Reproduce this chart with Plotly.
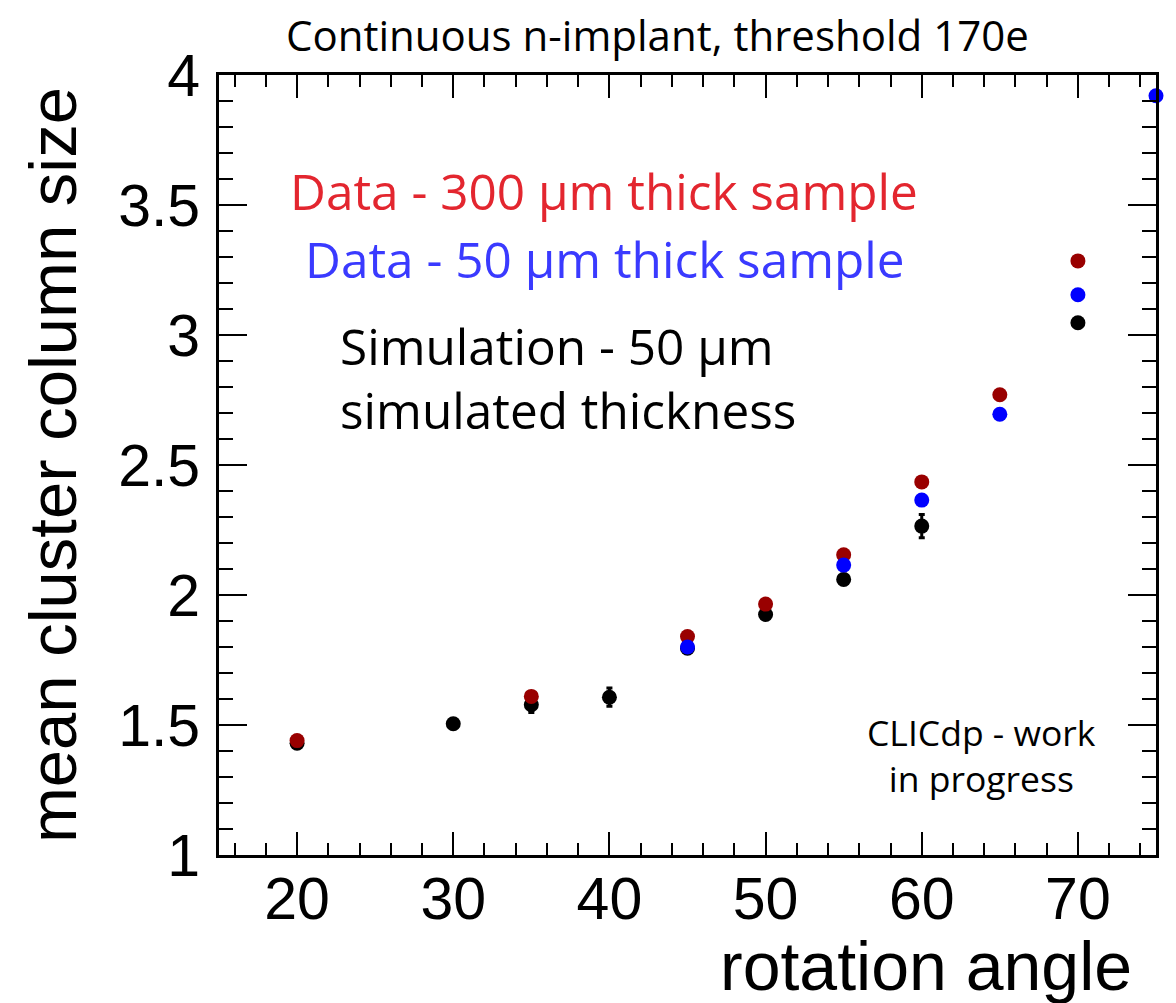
import plotly.graph_objects as go

# ---- data ----
angles_300 = [20, 35, 45, 50, 55, 60, 65, 70]
size_300 = [1.44, 1.61, 1.84, 1.965, 2.155, 2.435, 2.77, 3.285]

angles_50 = [45, 55, 60, 65, 70, 75]
size_50 = [1.80, 2.115, 2.365, 2.695, 3.155, 3.92]

angles_sim = [20, 30, 35, 40, 45, 50, 55, 60, 70]
size_sim = [1.43, 1.505, 1.578, 1.607, 1.795, 1.925, 2.06, 2.265, 3.047]
err_sim = [0.005, 0.012, 0.03, 0.035, 0.01, 0.01, 0.02, 0.045, 0.015]

x_ticks = [20, 30, 40, 50, 60, 70]
y_ticks = [1, 1.5, 2, 2.5, 3, 3.5, 4]
y_tick_text = ["1", "1.5", "2", "2.5", "3", "3.5", "4"]

W, H = 1176, 1003
ML, MR, MT, MB = 219, 20, 75, 148
PW, PH = W - ML - MR, H - MT - MB


def px(xp):
    return (xp - ML) / PW


def py(yp):
    return (H - MB - yp) / PH


HELV = "Liberation Sans, Arial, sans-serif"
AVEN = "Open Sans, Lato, sans-serif"

fig = go.Figure()
fig.add_trace(go.Scatter(
    x=angles_sim, y=size_sim, mode="markers",
    marker=dict(color="black", size=15),
    error_y=dict(type="data", array=err_sim, color="black", thickness=3, width=3),
    cliponaxis=False, showlegend=False))
fig.add_trace(go.Scatter(
    x=angles_300, y=size_300, mode="markers",
    marker=dict(color="#990000", size=15),
    cliponaxis=False, showlegend=False))
fig.add_trace(go.Scatter(
    x=angles_50, y=size_50, mode="markers",
    marker=dict(color="#0000ff", size=15),
    cliponaxis=False, showlegend=False))

axis_common = dict(showline=True, linecolor="black", linewidth=3, mirror="allticks",
                   ticks="inside", tickcolor="black", tickwidth=2,
                   showgrid=False, zeroline=False)

fig.update_xaxes(range=[15, 75], tickvals=x_ticks, ticklen=23,
                 tickfont=dict(family=HELV, size=59, color="black"),
                 ticklabelstandoff=-10,
                 minor=dict(ticks="inside", ticklen=12, dtick=2, tick0=0,
                            tickcolor="black", tickwidth=2),
                 **axis_common)
fig.update_yaxes(range=[1, 4], tickvals=y_ticks, ticktext=y_tick_text, ticklen=28,
                 tickfont=dict(family=HELV, size=59, color="black"),
                 ticklabelstandoff=4,
                 minor=dict(ticks="inside", ticklen=14, dtick=0.1, tick0=0,
                            tickcolor="black", tickwidth=2),
                 **axis_common)

annotations = [
    dict(text="Continuous n-implant, threshold 170e", x=px(657), y=py(35),
         xanchor="center", yanchor="middle", font=dict(family=AVEN, size=42, color="black")),
    dict(text="mean cluster column size", x=px(52), y=py(465), textangle=-90,
         xanchor="center", yanchor="middle", font=dict(family=HELV, size=67, color="black")),
    dict(text="rotation angle", x=px(1134), y=py(966),
         xanchor="right", yanchor="middle", font=dict(family=HELV, size=68, color="black")),
    dict(text="Data - 300 µm thick sample", x=px(288), y=py(191),
         xanchor="left", yanchor="middle", font=dict(family=AVEN, size=49.5, color="#e3262f")),
    dict(text="Data - 50 µm thick sample", x=px(303), y=py(259),
         xanchor="left", yanchor="middle", font=dict(family=AVEN, size=49.5, color="#3a3aff")),
    dict(text="Simulation - 50 µm", x=px(338), y=py(346),
         xanchor="left", yanchor="middle", font=dict(family=AVEN, size=49.5, color="black")),
    dict(text="simulated thickness", x=px(338), y=py(410),
         xanchor="left", yanchor="middle", font=dict(family=AVEN, size=49.5, color="black")),
    dict(text="CLICdp - work<br>in progress", x=px(981), y=py(755),
         xanchor="center", yanchor="middle", align="center",
         font=dict(family=AVEN, size=35.5, color="black")),
]
for a in annotations:
    a.update(xref="paper", yref="paper", showarrow=False)

fig.update_layout(width=W, height=H, margin=dict(l=ML, r=MR, t=MT, b=MB),
                  paper_bgcolor="white", plot_bgcolor="white",
                  annotations=annotations)

fig.write_html("out.html", config={"displayModeBar": False},
               post_script="document.body.style.margin='0px';document.body.style.padding='0px';")
